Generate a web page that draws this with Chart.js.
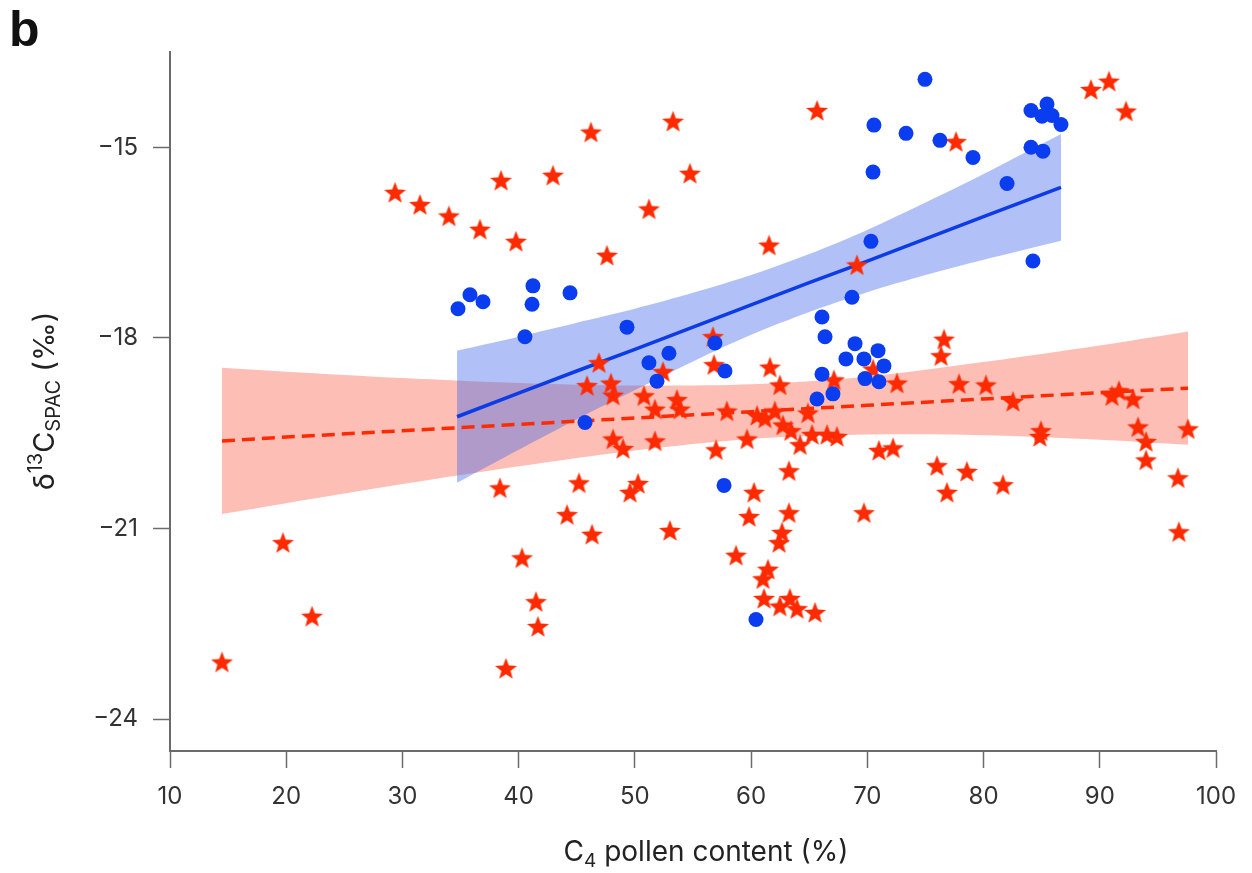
<!DOCTYPE html>
<html>
<head>
<meta charset="utf-8">
<script src="https://cdn.jsdelivr.net/npm/chart.js@4.4.1/dist/chart.umd.min.js"></script>
<style>
  html, body { margin: 0; padding: 0; background: #fff; }
  #wrap { width: 1252px; height: 873px; }
</style>
</head>
<body>
<div id="wrap"><canvas id="chart" width="1252" height="873"></canvas></div>
<script>
// x ticks / y ticks
const xTicks = [10, 20, 30, 40, 50, 60, 70, 80, 90, 100]
const yTicks = [-24, -21, -18, -15]

// blue circles
const blueX = [34.78, 35.81, 36.93, 41.23, 41.15, 44.42, 40.54, 49.32, 51.21, 52.93,
  51.90, 45.71, 56.89, 57.75, 57.67, 60.42, 66.10, 66.36, 68.68, 66.10,
  68.94, 70.92, 68.16, 69.71, 71.43, 69.80, 71.0, 67.04, 65.67, 70.31,
  70.49, 70.57, 73.33, 74.96, 76.25, 79.09, 82.02, 84.25, 84.08, 85.11,
  84.08, 85.46, 85.03, 85.89, 86.66]
const blueY = [-17.54, -17.32, -17.43, -17.18, -17.47, -17.29, -17.98, -17.83, -18.39, -18.24,
  -18.68, -19.33, -18.08, -18.52, -20.32, -22.43, -18.57, -17.98, -17.36, -17.67,
  -18.09, -18.20, -18.33, -18.33, -18.44, -18.64, -18.69, -18.88, -18.96, -16.48,
  -15.39, -14.65, -14.78, -13.93, -14.89, -15.16, -15.57, -16.79, -15.0, -15.06,
  -14.42, -14.32, -14.51, -14.50, -14.64]

// red stars
const redX = [14.47, 19.72, 22.22, 29.36, 31.51, 34.0, 36.67, 38.48, 39.77, 38.39,
  40.29, 41.49, 41.66, 38.91, 42.95, 46.22, 47.60, 51.21, 53.28, 54.74,
  46.91, 45.88, 47.94, 48.12, 52.42, 50.78, 51.73, 53.62, 53.88, 56.72,
  56.81, 48.12, 48.98, 51.73, 56.98, 45.19, 49.58, 50.27, 44.16, 46.31,
  53.02, 61.54, 65.67, 69.11, 61.62, 62.48, 57.92, 60.51, 61.19, 62.05,
  64.89, 62.74, 63.43, 59.65, 64.21, 65.24, 66.53, 67.39, 63.26, 60.25,
  59.82, 63.26, 62.66, 62.40, 58.70, 61.45, 61.02, 61.11, 62.48, 63.34,
  63.95, 65.50, 69.71, 70.49, 67.13, 72.55, 71.0, 72.21, 76.60, 76.34,
  77.89, 80.21, 82.53, 75.99, 78.57, 76.85, 81.67, 84.94, 84.85, 91.05,
  91.65, 92.86, 93.29, 93.98, 93.98, 97.59, 96.73, 96.81, 89.24, 90.79,
  92.26, 77.63]
const redY = [-23.10, -21.22, -22.38, -15.71, -15.90, -16.08, -16.29, -15.52, -16.48, -20.36,
  -21.46, -22.15, -22.54, -23.20, -15.44, -14.76, -16.70, -15.97, -14.59, -15.41,
  -18.39, -18.75, -18.71, -18.90, -18.53, -18.91, -19.12, -18.97, -19.12, -17.98,
  -18.42, -19.59, -19.74, -19.62, -19.76, -20.28, -20.43, -20.29, -20.78, -21.09,
  -21.03, -16.54, -14.42, -16.85, -18.46, -18.74, -19.15, -19.22, -19.26, -19.15,
  -19.18, -19.37, -19.46, -19.59, -19.68, -19.52, -19.52, -19.55, -20.09, -20.43,
  -20.81, -20.75, -21.06, -21.22, -21.42, -21.64, -21.79, -22.10, -22.22, -22.10,
  -22.26, -22.32, -20.75, -18.49, -18.66, -18.71, -19.77, -19.73, -18.02, -18.28,
  -18.72, -18.74, -19.0, -20.01, -20.10, -20.43, -20.31, -19.46, -19.55, -18.91,
  -18.83, -18.96, -19.40, -19.63, -19.92, -19.43, -20.20, -21.05, -14.09, -13.96,
  -14.43, -14.91]

// blue regression + band
const blueBandX = [34.7, 40, 45, 50, 55, 60, 65, 70, 75, 80, 86.66]
const blueFitY = [-19.24, -18.87, -18.52, -18.18, -17.83, -17.48, -17.13, -16.79, -16.44, -16.09, -15.63]
const blueUpper = [-18.20, -17.98, -17.76, -17.54, -17.29, -17.01, -16.68, -16.30, -15.87, -15.42, -14.79]
const blueLower = [-20.28, -19.76, -19.28, -18.82, -18.37, -17.95, -17.59, -17.28, -17.01, -16.77, -16.47]

// red regression + band
const redBandX = [14.47, 20, 30, 40, 50, 60, 70, 80, 90, 97.59]
const redFitY = [-19.62, -19.56, -19.46, -19.36, -19.26, -19.16, -19.06, -18.96, -18.86, -18.79]
const redUpper = [-18.47, -18.53, -18.63, -18.71, -18.75, -18.73, -18.61, -18.38, -18.12, -17.90]
const redLower = [-20.77, -20.60, -20.30, -20.02, -19.77, -19.59, -19.52, -19.53, -19.60, -19.68]

const pts = (xs, ys) => xs.map((x, i) => ({ x, y: ys[i] }))

// filled 5-point star used as point style
const makeStar = (r, color) => {
  const size = Math.ceil(r * 2 + 2)
  const c = document.createElement('canvas')
  c.width = size
  c.height = size
  const g = c.getContext('2d')
  g.fillStyle = color
  g.beginPath()
  for (let i = 0; i < 10; i++) {
    const rad = i % 2 === 0 ? r : r * 0.42
    const a = -Math.PI / 2 + i * Math.PI / 5
    const px = size / 2 + rad * Math.cos(a)
    const py = size / 2 + 1 + rad * Math.sin(a)
    if (i === 0) g.moveTo(px, py)
    else g.lineTo(px, py)
  }
  g.closePath()
  g.fill()
  return c
}

const RED = '#ff2a00'
const BLUE = '#0a3cf0'
const FONT = 'Inter, "Noto Sans", sans-serif'
const fmt = (v) => (v < 0 ? '\u2212' + Math.abs(v) : '' + v)

const line = (data, color, width, extra) => Object.assign({
  data, showLine: true, borderColor: color, borderWidth: width,
  pointRadius: 0, fill: false, tension: 0
}, extra)

// titles with sub/superscripts, plus panel letter
const titles = {
  id: 'titles',
  afterDraw(chart) {
    const ctx = chart.ctx
    const big = '400 28px ' + FONT
    const small = '400 19px ' + FONT
    ctx.save()
    ctx.fillStyle = '#222'
    ctx.textBaseline = 'alphabetic'

    // x title
    const xParts = [['C', big, 0], ['4', small, 6], [' pollen content (%)', big, 0]]
    let w = 0
    xParts.forEach(p => { ctx.font = p[1]; w += ctx.measureText(p[0]).width })
    let x = 706 - w / 2
    xParts.forEach(p => { ctx.font = p[1]; ctx.fillText(p[0], x, 861 + p[2]); x += ctx.measureText(p[0]).width })

    // y title (rotated)
    const ybig = '400 29px ' + FONT
    const ysmall = '400 20px ' + FONT
    const yParts = [['\u03b4', ybig, 0], ['13', ysmall, -12], ['C', ybig, 0], ['SPAC', ysmall, 6], [' (\u2030)', ybig, 0]]
    w = 0
    yParts.forEach(p => { ctx.font = p[1]; w += ctx.measureText(p[0]).width })
    ctx.translate(54, 401)
    ctx.rotate(-Math.PI / 2)
    x = -w / 2
    yParts.forEach(p => { ctx.font = p[1]; ctx.fillText(p[0], x, p[2]); x += ctx.measureText(p[0]).width })
    ctx.restore()

    ctx.save()
    ctx.fillStyle = '#111'
    ctx.font = 'bold 50px "Liberation Sans", Arial, sans-serif'
    ctx.fillText('b', 9, 46)
    ctx.restore()
  }
}

new Chart(document.getElementById('chart'), {
  type: 'scatter',
  data: {
    datasets: [
      { data: pts(blueX, blueY), backgroundColor: BLUE, borderWidth: 0, pointRadius: 7.5, order: 0 },
      { data: pts(redX, redY), pointStyle: makeStar(11.5, RED), pointRadius: 11, order: 1 },
      line(pts(blueBandX, blueFitY), '#0d3be6', 3.5, { order: 2 }),
      line(pts(redBandX, redFitY), RED, 3.5, { borderDash: [13, 7], order: 3 }),
      line(pts(blueBandX, blueUpper), 'rgba(0,0,0,0)', 0, { fill: '+1', backgroundColor: 'rgba(60,100,235,0.4)', tension: 0.3, order: 4 }),
      line(pts(blueBandX, blueLower), 'rgba(0,0,0,0)', 0, { tension: 0.3, order: 5 }),
      line(pts(redBandX, redUpper), 'rgba(0,0,0,0)', 0, { fill: '+1', backgroundColor: 'rgba(248,110,90,0.45)', tension: 0.3, order: 6 }),
      line(pts(redBandX, redLower), 'rgba(0,0,0,0)', 0, { tension: 0.3, order: 7 })
    ]
  },
  options: {
    responsive: false,
    animation: false,
    events: [],
    layout: { padding: { top: 52, right: 36, left: 0, bottom: 0 } },
    plugins: { legend: { display: false }, tooltip: { enabled: false } },
    scales: {
      x: {
        type: 'linear',
        min: 10,
        max: 100,
        afterBuildTicks: (s) => { s.ticks = xTicks.map(v => ({ value: v })) },
        afterFit: (s) => { s.height = 122 },
        border: { display: true, color: '#6b6b6b', width: 2 },
        grid: { drawOnChartArea: false, drawTicks: true, tickLength: 17, tickColor: '#6b6b6b', tickWidth: 1.5 },
        ticks: { color: '#333', font: { family: FONT, size: 24 }, padding: 14, maxRotation: 0, callback: fmt }
      },
      y: {
        type: 'linear',
        min: -24.5,
        max: -13.5,
        afterBuildTicks: (s) => { s.ticks = yTicks.map(v => ({ value: v })) },
        afterFit: (s) => { s.width = 170 },
        border: { display: true, color: '#6b6b6b', width: 2 },
        grid: { drawOnChartArea: false, drawTicks: true, tickLength: 17, tickColor: '#6b6b6b', tickWidth: 1.5 },
        ticks: { color: '#333', font: { family: FONT, size: 24 }, padding: 15, callback: fmt }
      }
    }
  },
  plugins: [titles]
})
</script>
</body>
</html>
